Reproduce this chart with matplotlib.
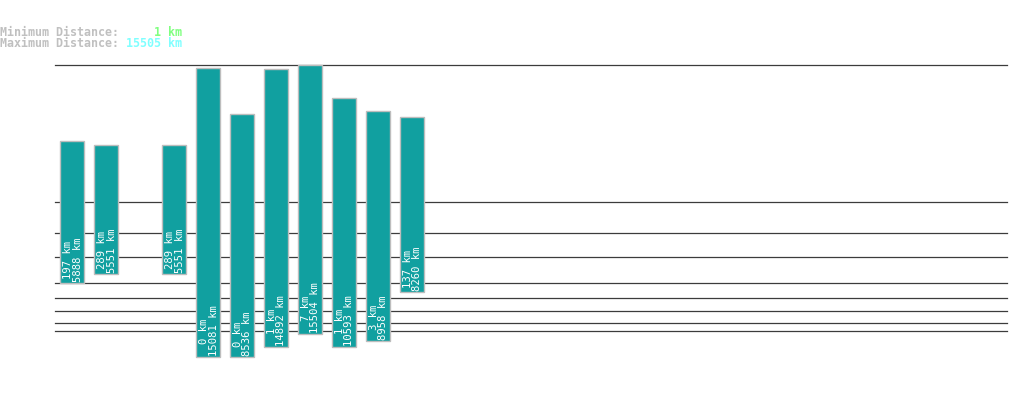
"""Floating bars of min/max distance per slot"""
import numpy as np
import matplotlib
matplotlib.use('Agg')
import matplotlib.pyplot as plt

# data
slots = [0, 1, 3, 4, 5, 6, 7, 8, 9, 10]
min_km = [197, 289, 289, 0, 0, 1, 7, 1, 3, 137]
max_km = [5888, 5551, 5551, 15081, 8536, 14892, 15504, 10593, 8958, 8260]
n_slots = 28
grid_km = [10, 20, 50, 100, 200, 500, 1000, 2000]
overall_min = 1
overall_max = 15505

# power scale (the chart squashes the large distances)
p = 0.3
c = 0.05
def fwd(v):
    v = np.asarray(v, dtype=float)
    return np.sign(v) * ((np.abs(v) + c) ** p - c ** p)
def inv(v):
    v = np.asarray(v, dtype=float)
    return np.sign(v) * ((np.abs(v) + c ** p) ** (1 / p) - c)

W, H = 1019, 402
fig = plt.figure(figsize=(W / 100, H / 100), dpi=100)
ax = fig.add_axes([55.3 / W, (H - 358.3) / H, (1006.7 - 55.3) / W, (358.3 - 66.3) / H])
ax.set_yscale('function', functions=(fwd, inv))
ax.set_ylim(0, overall_max)
ax.set_xlim(-0.5, n_slots - 0.5)
ax.axis('off')

# horizontal reference lines
for g in grid_km + [overall_max]:
    ax.axhline(g, color='#3c3c3c', linewidth=0.9, zorder=1, clip_on=False)

lo = np.array(min_km)
hi = np.array(max_km)
bars = ax.bar(slots, hi - lo, bottom=lo, width=24 / 34, color='#11a0a0',
              edgecolor='#bdbdbd', linewidth=1.0, zorder=2)
for b in bars:
    b.set_clip_on(False)

for x, a, b in zip(slots, min_km, max_km):
    ax.annotate(f"{a} km\n{b} km", (x, a), xytext=(0.5, 2), textcoords='offset pixels',
                rotation=90, ha='center', va='bottom', multialignment='center',
                color='white', family='DejaVu Sans Mono', fontsize=7.6,
                linespacing=0.95, zorder=3)

# header
mono = dict(family='DejaVu Sans Mono', fontsize=8.4, fontweight='bold', va='center')
fig.text(0, 1 - 32 / H, "Minimum Distance:", color='#c0c0c0', **mono)
fig.text(182 / W, 1 - 32 / H, f"{overall_min} km", color='#80ff80', ha='right', **mono)
fig.text(0, 1 - 43.5 / H, "Maximum Distance:", color='#c0c0c0', **mono)
fig.text(182 / W, 1 - 43.5 / H, f"{overall_max} km", color='#80ffff', ha='right', **mono)

fig.savefig('out.png', dpi=100)
